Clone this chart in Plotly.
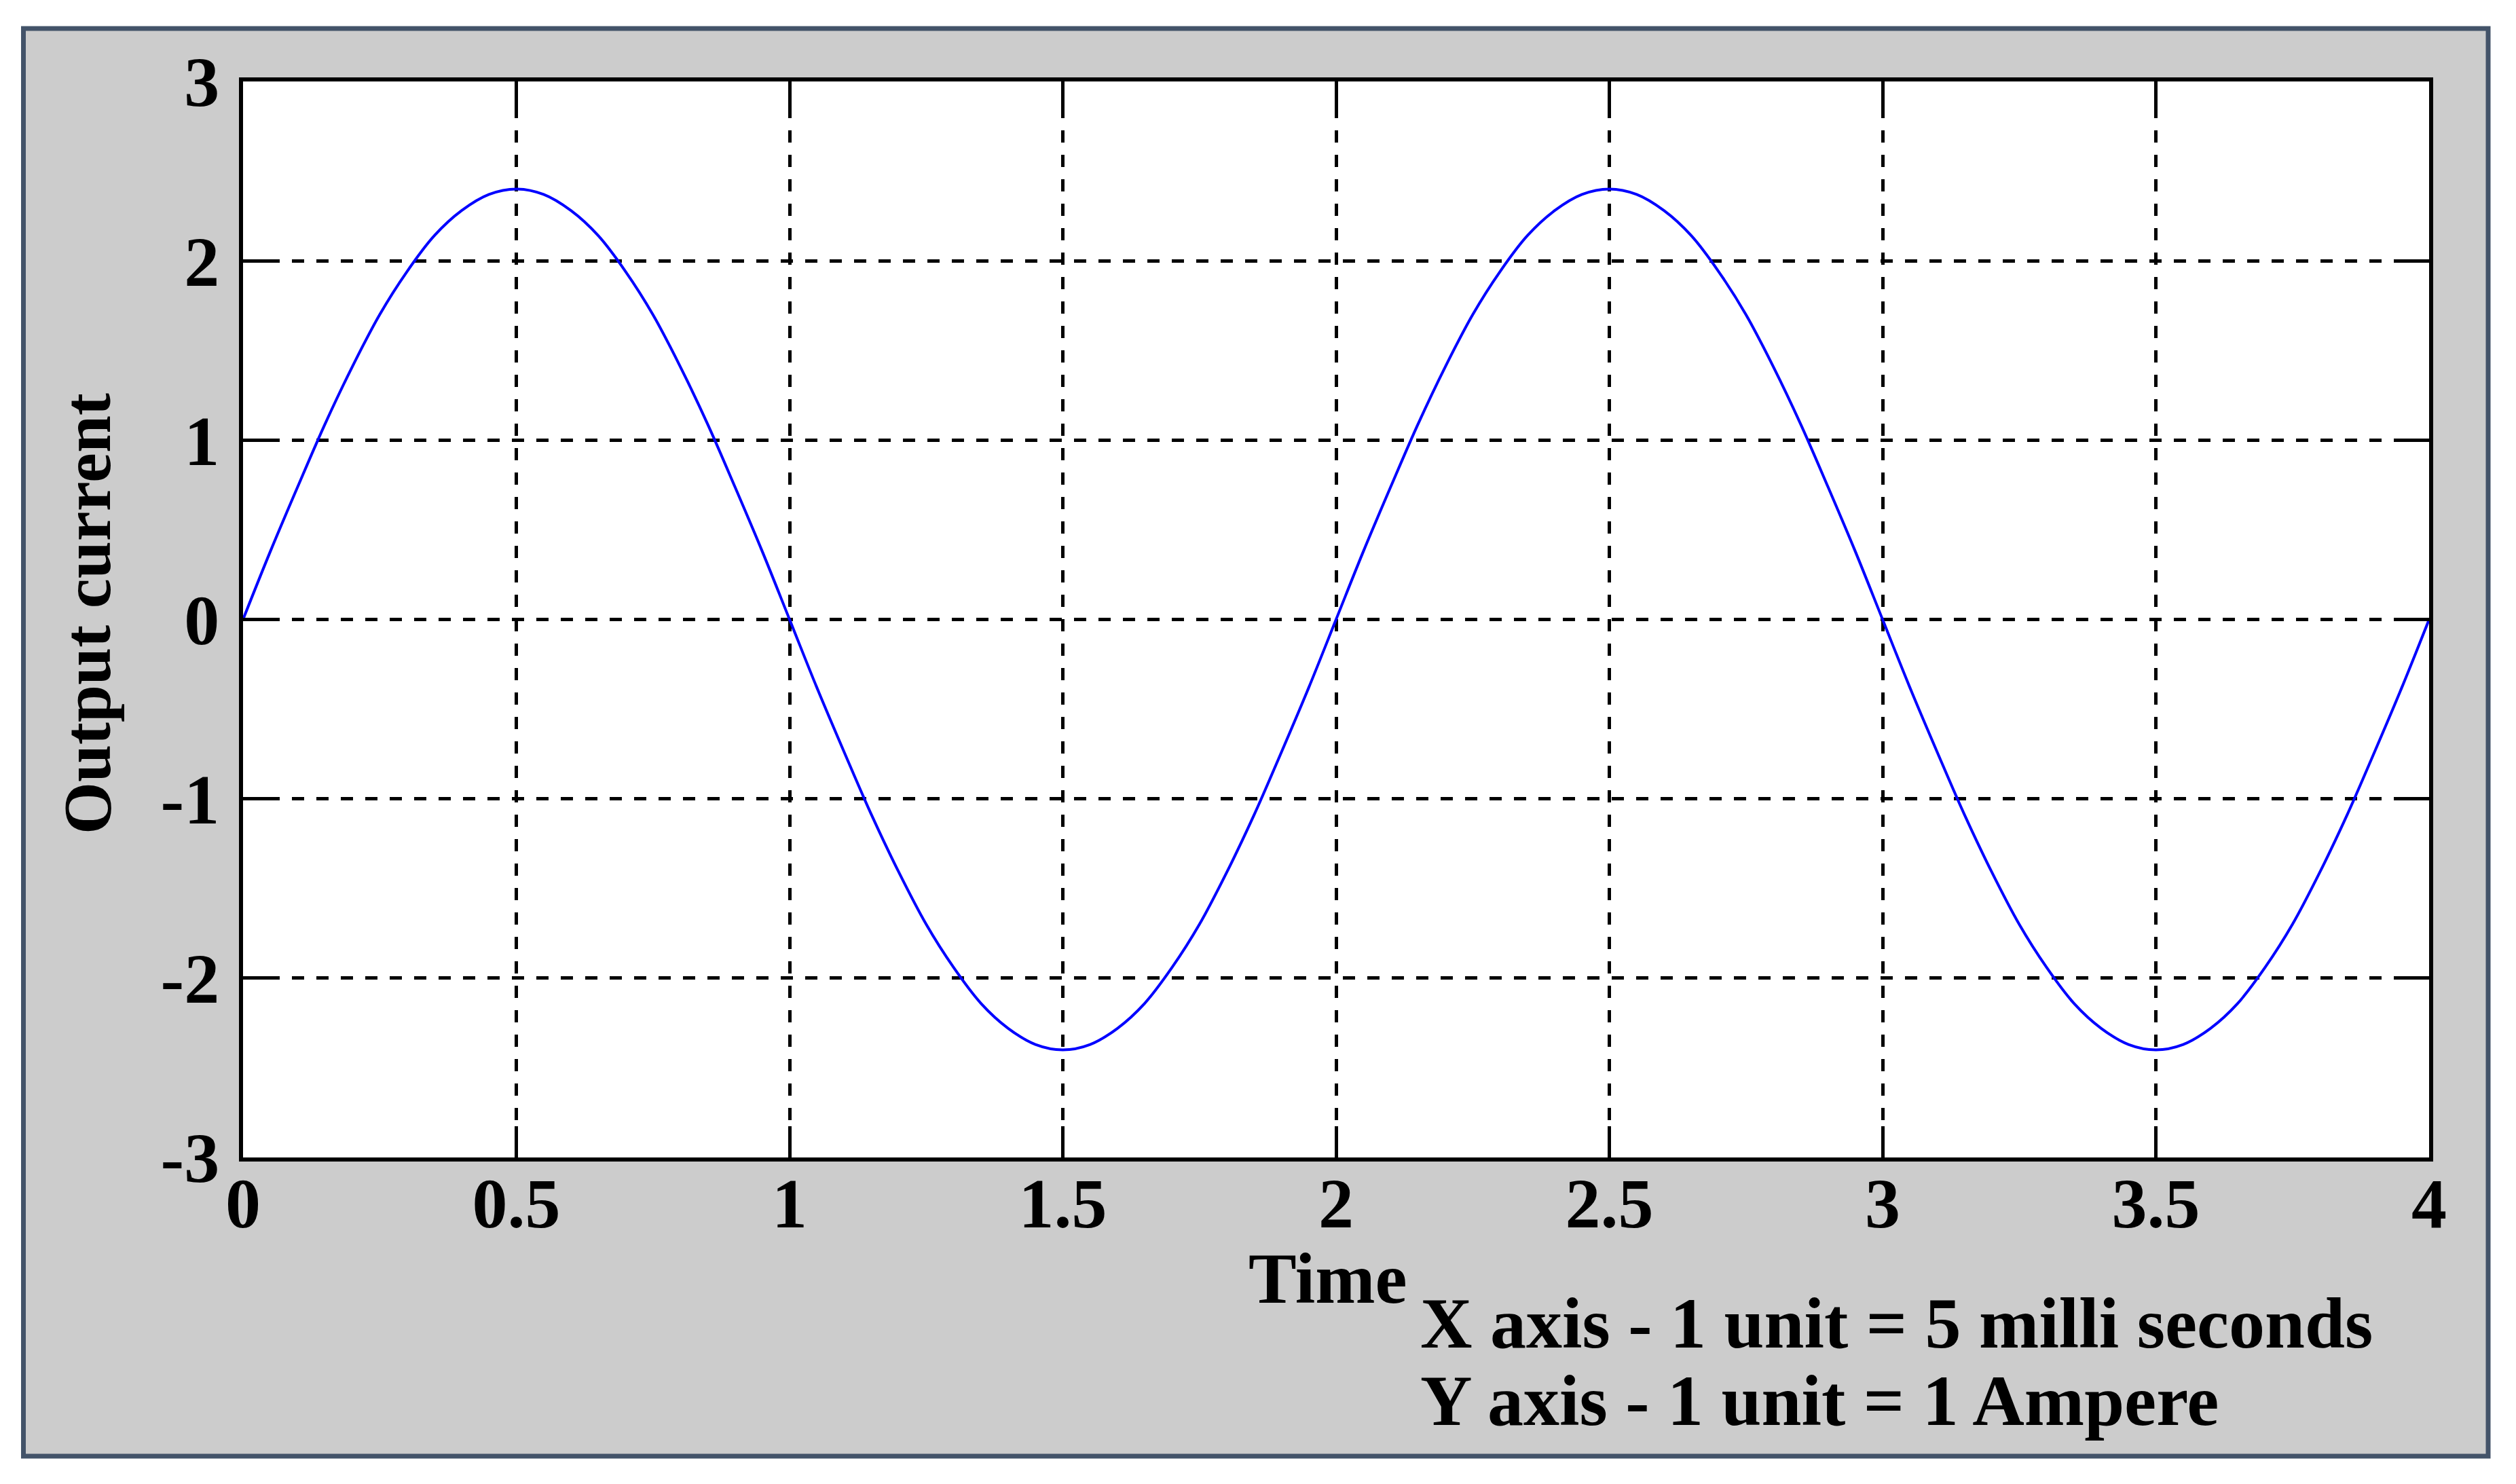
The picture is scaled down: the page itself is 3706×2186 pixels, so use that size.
import plotly.graph_objects as go

# ---- data ----
time_units = [round(i * 0.05, 2) for i in range(81)]
current_amp = [
    0.00, 0.38, 0.74, 1.09, 1.41, 1.70, 1.94, 2.14, 2.28, 2.37,
    2.40, 2.37, 2.28, 2.14, 1.94, 1.70, 1.41, 1.09, 0.74, 0.38,
    0.00, -0.38, -0.74, -1.09, -1.41, -1.70, -1.94, -2.14, -2.28, -2.37,
    -2.40, -2.37, -2.28, -2.14, -1.94, -1.70, -1.41, -1.09, -0.74, -0.38,
    0.00, 0.38, 0.74, 1.09, 1.41, 1.70, 1.94, 2.14, 2.28, 2.37,
    2.40, 2.37, 2.28, 2.14, 1.94, 1.70, 1.41, 1.09, 0.74, 0.38,
    0.00, -0.38, -0.74, -1.09, -1.41, -1.70, -1.94, -2.14, -2.28, -2.37,
    -2.40, -2.37, -2.28, -2.14, -1.94, -1.70, -1.41, -1.09, -0.74, -0.38,
    0.00,
]
x_tick_vals = [0, 0.5, 1, 1.5, 2, 2.5, 3, 3.5, 4]
x_tick_text = ["0", "0.5", "1", "1.5", "2", "2.5", "3", "3.5", "4"]
y_tick_vals = [-3, -2, -1, 0, 1, 2, 3]
y_tick_text = ["-3", "-2", "-1", "0", "1", "2", "3"]
x_title = "Time"
y_title = "Output current"
note_lines = ["X axis - 1 unit = 5 milli seconds", "Y axis - 1 unit = 1 Ampere"]

# ---- layout geometry (pixels, in screenshot coordinates) ----
W, H = 3706, 2186
OFF = 8  # page body margin
L, R, T, B = 358 - OFF, 128 + OFF, 120 - OFF, 481 + OFF
PW, PH = W - L - R, H - T - B
FONT = "Liberation Serif, Times New Roman, serif"


def px(x):
    return (x - OFF - L) / PW


def py(y):
    return (H - B - (y - OFF)) / PH


fig = go.Figure()
fig.add_trace(go.Scatter(
    x=time_units, y=current_amp, mode="lines",
    line=dict(color="#0000FF", width=4, shape="spline"),
    showlegend=False, hoverinfo="skip",
))

axis_common = dict(
    showline=True, linecolor="black", linewidth=6, mirror="ticks",
    ticks="inside", ticklen=46, tickwidth=5, tickcolor="black",
    showgrid=True, gridcolor="black", gridwidth=5, griddash="18px,18px",
    zeroline=False,
    tickfont=dict(family=FONT, size=104, color="black", weight="bold"),
)

fig.update_xaxes(range=[0, 4], tickmode="array", tickvals=x_tick_vals,
                 ticktext=x_tick_text, ticklabelstandoff=-28, **axis_common)
fig.update_yaxes(range=[-3, 3], tickmode="array", tickvals=y_tick_vals,
                 ticktext=y_tick_text, ticklabelstandoff=8, **axis_common)

shapes = [
    dict(type="rect", xref="paper", yref="paper", layer="below",
         x0=px(34.5), x1=px(3665), y0=py(42), y1=py(2145),
         fillcolor="#CCCCCC", line=dict(color="#435369", width=7)),
    dict(type="rect", xref="x", yref="y", layer="below",
         x0=0, x1=4, y0=-3, y1=3, fillcolor="white", line=dict(width=0)),
]

ann_font = dict(family=FONT, size=106, color="black", weight="bold")
annotations = [
    dict(text=x_title, xref="paper", yref="paper", x=px(1956), y=py(1884),
         xanchor="center", yanchor="middle", showarrow=False, font=ann_font),
    dict(text=note_lines[0], xref="paper", yref="paper", x=px(2090), y=py(1950),
         xanchor="left", yanchor="middle", showarrow=False, font=ann_font),
    dict(text=note_lines[1], xref="paper", yref="paper", x=px(2090), y=py(2063),
         xanchor="left", yanchor="middle", showarrow=False, font=ann_font),
    dict(text=y_title, xref="paper", yref="paper", x=px(128), y=py(904),
         xanchor="center", yanchor="middle", textangle=-90, showarrow=False,
         font=dict(family=FONT, size=99, color="black", weight="bold")),
]

fig.update_layout(
    width=W, height=H, autosize=False,
    margin=dict(l=L, r=R, t=T, b=B, pad=0),
    paper_bgcolor="white", plot_bgcolor="rgba(0,0,0,0)",
    shapes=shapes, annotations=annotations, showlegend=False,
)

fig.write_html("out.html")
